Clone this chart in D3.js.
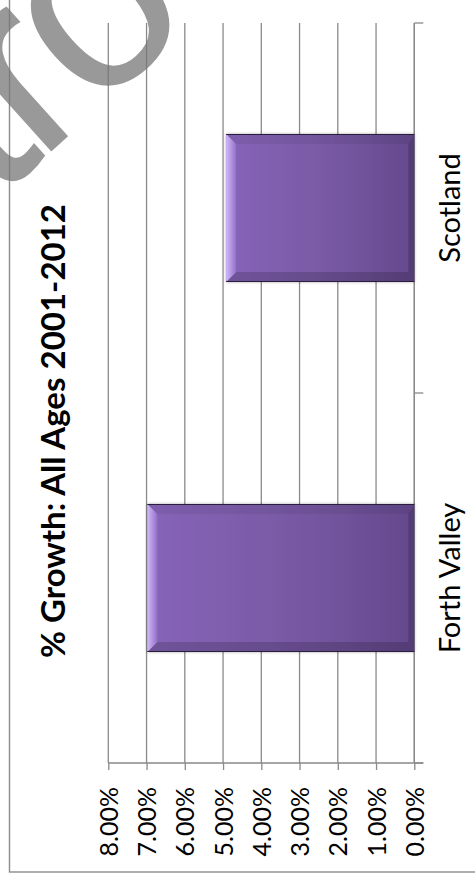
<!DOCTYPE html>
<html>
<head>
<meta charset="utf-8">
<script src="https://cdn.jsdelivr.net/npm/d3@7"></script>
<style>
  html, body { margin: 0; padding: 0; background: #fff; }
  svg { display: block; }
</style>
</head>
<body>
<script>
// Population growth, all ages, 2001-2012
const categories = ["Forth Valley", "Scotland"];
const growth = [0.0698, 0.0492];
const valueTicks = [0, 0.01, 0.02, 0.03, 0.04, 0.05, 0.06, 0.07, 0.08];
const titleText = "% Growth: All Ages 2001-2012";
const watermarkText = "tro";

const W = 475, H = 883;
const svg = d3.select("body").append("svg").attr("width", W).attr("height", H);

// Chart is laid out turned on its side: values run right-to-left, categories bottom-to-top
const plot = { left: 108.3, right: 414.3, top: 23, bottom: 763 };
const x = d3.scaleLinear().domain([0, 0.08]).range([plot.right, plot.left]);
const y = d3.scaleBand().domain(categories)
  .range([plot.bottom, plot.top]).paddingInner(0.6).paddingOuter(0.3);

const gridColor = "#8a8a8a";
const labelFont = "Lato, 'Open Sans', sans-serif";

// ---- defs: bar gradients and shadow
const defs = svg.append("defs");
const fill = defs.append("linearGradient").attr("id", "barFill")
  .attr("x1", 0).attr("x2", 1).attr("y1", 0).attr("y2", 0);
fill.append("stop").attr("offset", 0).attr("stop-color", "#8664b8");
fill.append("stop").attr("offset", 0.5).attr("stop-color", "#795aa6");
fill.append("stop").attr("offset", 1).attr("stop-color", "#64498c");
const lb = defs.append("linearGradient").attr("id", "leftBevel")
  .attr("x1", 0).attr("x2", 1).attr("y1", 0).attr("y2", 0);
lb.append("stop").attr("offset", 0).attr("stop-color", "#d3b8fb");
lb.append("stop").attr("offset", 1).attr("stop-color", "#9171c6");
const sh = defs.append("filter").attr("id", "barShadow")
  .attr("x", "-5%").attr("y", "-5%").attr("width", "110%").attr("height", "110%");
sh.append("feDropShadow").attr("dx", 0).attr("dy", 0)
  .attr("stdDeviation", 1.6).attr("flood-color", "#000").attr("flood-opacity", 0.35);

// ---- outer chart border
svg.append("rect")
  .attr("x", 9.5).attr("y", -10).attr("width", W + 20).attr("height", 872 + 10)
  .attr("fill", "none").attr("stroke", "#8c8c8c").attr("stroke-width", 1.4);

// ---- vertical gridlines
svg.append("g").selectAll("line").data(valueTicks).join("line")
  .attr("x1", d => x(d)).attr("x2", d => x(d))
  .attr("y1", plot.top).attr("y2", plot.bottom)
  .attr("stroke", gridColor).attr("stroke-width", 1.3);

// ---- value axis (along the bottom, labels turned)
const xAxis = svg.append("g").attr("transform", `translate(0,${plot.bottom})`)
  .call(d3.axisBottom(x).tickValues(valueTicks).tickSize(7).tickSizeOuter(0)
    .tickFormat(d3.format(".2%")));
xAxis.select(".domain").remove();
xAxis.selectAll(".tick line").attr("stroke", gridColor).attr("stroke-width", 1.3);
xAxis.selectAll(".tick text")
  .attr("x", 0).attr("y", 0).attr("dy", "0.36em")
  .attr("transform", "translate(0,24) rotate(-90)")
  .attr("text-anchor", "end")
  .attr("font-family", labelFont).attr("font-size", 25).attr("fill", "#000");
svg.append("line")
  .attr("x1", plot.left).attr("x2", plot.right + 9)
  .attr("y1", plot.bottom).attr("y2", plot.bottom)
  .attr("stroke", gridColor).attr("stroke-width", 1.3);

// ---- category axis (right side) with boundary ticks
svg.append("line")
  .attr("x1", plot.right).attr("x2", plot.right)
  .attr("y1", plot.top).attr("y2", plot.bottom)
  .attr("stroke", gridColor).attr("stroke-width", 1.3);
const step = y.step();
const bounds = d3.range(categories.length + 1).map(i => plot.top + i * step);
svg.append("g").selectAll("line").data(bounds).join("line")
  .attr("x1", plot.right).attr("x2", plot.right + 9)
  .attr("y1", d => d).attr("y2", d => d)
  .attr("stroke", gridColor).attr("stroke-width", 1.3);
svg.append("g").selectAll("text").data(categories).join("text")
  .attr("transform", d => `translate(450,${y(d) + y.bandwidth() / 2}) rotate(-90)`)
  .attr("dy", "0.36em").attr("text-anchor", "middle")
  .attr("font-family", labelFont).attr("font-size", 29).attr("fill", "#000")
  .text(d => d);

// ---- bevelled bars
const bw = y.bandwidth();
const bev = 10;
const bars = svg.append("g").selectAll("g")
  .data(categories.map((c, i) => ({ c, v: growth[i] })))
  .join("g");
bars.each(function (d) {
  const g = d3.select(this);
  const x0 = x(d.v), x1 = x(0), y0 = y(d.c), y1 = y0 + bw;
  g.append("rect").attr("x", x0).attr("y", y0).attr("width", x1 - x0).attr("height", bw)
    .attr("fill", "url(#barFill)").attr("filter", "url(#barShadow)");
  const poly = pts => pts.map(p => p.join(",")).join(" ");
  // top edge facet
  g.append("polygon").attr("points", poly([[x0, y0], [x1, y0], [x1 - bev * 0.6, y0 + bev], [x0 + bev, y0 + bev]]))
    .attr("fill", "#000").attr("opacity", 0.06);
  // bottom edge facet
  g.append("polygon").attr("points", poly([[x0, y1], [x1, y1], [x1 - bev * 0.6, y1 - bev], [x0 + bev, y1 - bev]]))
    .attr("fill", "#000").attr("opacity", 0.16);
  // right edge facet
  g.append("polygon").attr("points", poly([[x1, y0], [x1, y1], [x1 - bev * 0.6, y1 - bev], [x1 - bev * 0.6, y0 + bev]]))
    .attr("fill", "#000").attr("opacity", 0.16);
  // lit left facet
  g.append("polygon").attr("points", poly([[x0, y0], [x0 + bev, y0 + bev], [x0 + bev, y1 - bev], [x0, y1]]))
    .attr("fill", "url(#leftBevel)");
  // dark rims
  g.append("line").attr("x1", x0).attr("x2", x1).attr("y1", y0 + 0.5).attr("y2", y0 + 0.5)
    .attr("stroke", "#2a1d3d").attr("stroke-width", 1.2);
  g.append("line").attr("x1", x0).attr("x2", x1).attr("y1", y1 - 0.5).attr("y2", y1 - 0.5)
    .attr("stroke", "#2a1d3d").attr("stroke-width", 1.2);
});

// ---- title, turned to read upward
svg.append("text")
  .attr("transform", "translate(53.5,431) rotate(-90)")
  .attr("dy", "0.36em").attr("text-anchor", "middle")
  .attr("font-family", labelFont).attr("font-weight", 700).attr("font-size", 33)
  .attr("fill", "#000")
  .text(titleText);

// ---- grey watermark lettering across the top-left corner
svg.append("text")
  .attr("transform", "translate(-6,203) rotate(-42)")
  .attr("font-family", "'Liberation Sans', Arial, sans-serif")
  .attr("font-size", 258).attr("letter-spacing", -12.5)
  .attr("fill", "#777").attr("opacity", 0.75)
  .text(watermarkText);
</script>
</body>
</html>
